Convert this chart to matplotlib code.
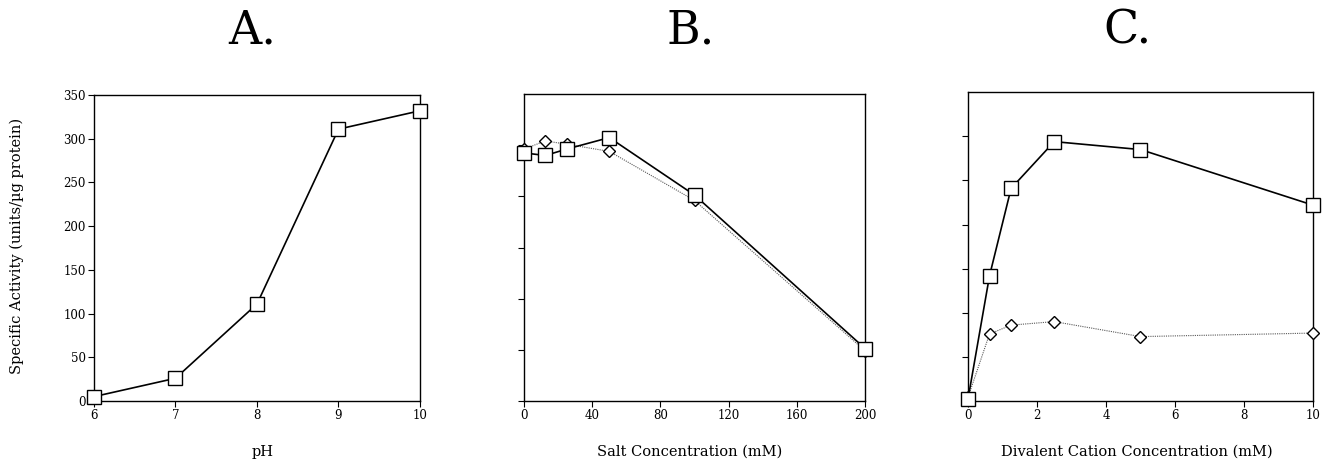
import matplotlib
matplotlib.use('Agg')
import matplotlib.pyplot as plt

# panel A: pH
ph = [6, 7, 8, 9, 10]
act_ph = [5, 26, 111, 311, 332]

# panel B: salt
salt = [0, 12.5, 25, 50, 100, 200]
salt_sq = [97, 96, 98.5, 103, 80.5, 20.5]
salt_di = [98.5, 101.7, 100.4, 97.6, 78.4, 19.6]

# panel C: divalent cation
cat = [0, 0.625, 1.25, 2.5, 5, 10]
cat_sq = [2, 142, 241, 294, 285, 222]
cat_di = [4, 76, 86, 90, 73, 77]

plt.rcParams['font.family'] = 'DejaVu Serif'
plt.rcParams['font.size'] = 8

fig = plt.figure(figsize=(13.22, 4.70), dpi=100, facecolor='w')

def style(ax):
    ax.tick_params(direction='out', length=4, width=0.8, pad=2, labelsize=8.5)
    for s in ax.spines.values():
        s.set_linewidth(1.0)

sq = dict(marker='s', ms=10, mfc='white', mec='black', mew=1.0,
          color='black', lw=1.2)
di = dict(marker='D', ms=6.5, mfc='white', mec='black', mew=1.0,
          color='0.35', lw=0.8, ls=(0, (1, 1)))

# A
ax0 = fig.add_axes([0.0711, 0.1468, 0.2466, 0.651])
ax0.plot(ph, act_ph, clip_on=False, zorder=3, **sq)
ax0.set_xlim(6, 10)
ax0.set_ylim(0, 350)
ax0.set_xticks([6, 7, 8, 9, 10])
ax0.set_yticks(range(0, 351, 50))
style(ax0)

# B
ax1 = fig.add_axes([0.3964, 0.1468, 0.258, 0.653])
ax1.plot(salt, salt_di, clip_on=False, zorder=3, **di)
ax1.plot(salt, salt_sq, clip_on=False, zorder=4, **sq)
ax1.set_xlim(0, 200)
ax1.set_ylim(0, 120)
ax1.set_xticks(range(0, 201, 40))
ax1.set_yticks(range(0, 101, 20))
ax1.set_yticklabels([])
style(ax1)

# C
ax2 = fig.add_axes([0.7322, 0.1468, 0.261, 0.657])
ax2.plot(cat, cat_di, clip_on=False, zorder=3, **di)
ax2.plot(cat, cat_sq, clip_on=False, zorder=4, **sq)
ax2.set_xlim(0, 10)
ax2.set_ylim(0, 350)
ax2.set_xticks(range(0, 11, 2))
ax2.set_yticks(range(0, 301, 50))
ax2.set_yticklabels([])
style(ax2)

for x, t in [(252, 'A.'), (691, 'B.'), (1127, 'C.')]:
    fig.text(x / 1322, 1 - 31 / 470, t, fontsize=33, ha='center', va='center')

for x, t in [(263, 'pH'), (690, 'Salt Concentration (mM)'),
             (1137, 'Divalent Cation Concentration (mM)')]:
    fig.text(x / 1322, 1 - 452 / 470, t, fontsize=10.5, ha='center', va='center')

fig.text(17 / 1322, 1 - 246 / 470, 'Specific Activity (units/µg protein)',
         fontsize=10.5, rotation=90, ha='center', va='center')

plt.savefig('out.png', dpi=100)
plt.close()
